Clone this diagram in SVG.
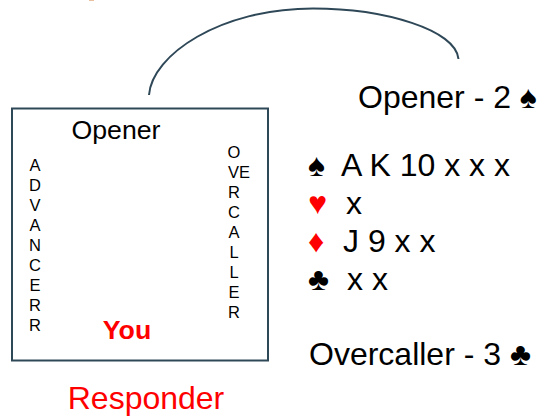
<svg xmlns="http://www.w3.org/2000/svg" width="539" height="416" viewBox="0 0 539 416">
<style>
text{font-family:"Liberation Sans",Arial,sans-serif;fill:#000}
.big{font-size:32px}
.lab{font-size:26.700px}
.side{font-size:16.500px;text-anchor:middle}
.red{fill:#f00}
.line{fill:none;stroke:#2f4858;stroke-width:2}
</style>
<rect width="539" height="416" fill="#fff"/>
<rect x="89" y="0" width="5" height="1" fill="#e8c0a0"/>
<g id="connectors">
<path class="line" d="M149 95C152 55 220 8.500 313 8.500C385 8.500 456 30 458.500 59"/>
</g>
<g id="table">
<rect class="line" x="12" y="108.500" width="256" height="252"/>
<text x="116" y="139" class="lab" text-anchor="middle">Opener</text>
<text x="127" y="339" class="lab red" font-weight="700" text-anchor="middle">You</text>
</g>
<g id="advancer">
<text class="side" x="35" y="171">A</text><text class="side" x="35" y="191">D</text><text class="side" x="35" y="211">V</text><text class="side" x="35" y="231">A</text><text class="side" x="35" y="251">N</text><text class="side" x="35" y="271">C</text><text class="side" x="35" y="291">E</text><text class="side" x="35" y="311">R</text><text class="side" x="35" y="331">R</text>
</g>
<g id="overcaller">
<text class="side" x="234" y="158">O</text><text class="side" x="239" y="178">VE</text><text class="side" x="234" y="198">R</text><text class="side" x="234" y="218">C</text><text class="side" x="234" y="238">A</text><text class="side" x="234" y="258">L</text><text class="side" x="234" y="278">L</text><text class="side" x="234" y="298">E</text><text class="side" x="234" y="318">R</text>
</g>
<g id="responder"><text x="146" y="409.300" class="big red" text-anchor="middle">Responder</text></g>
<g id="opener-bid"><text x="358" y="108" class="big">Opener - 2 ♠</text></g>
<g id="hand">
<text x="308" y="176" class="big">♠</text><text x="341" y="176" class="big">A K 10 x x x</text>
<text x="308" y="214" class="big red">♥</text><text x="346" y="214" class="big">x</text>
<text x="308" y="252" class="big red">♦</text><text x="343" y="252" class="big">J 9 x x</text>
<text x="308" y="290" class="big">♣</text><text x="347" y="290" class="big">x x</text>
</g>
<g id="overcaller-bid"><text x="309" y="365" class="big">Overcaller - 3 ♣</text></g>
</svg>
